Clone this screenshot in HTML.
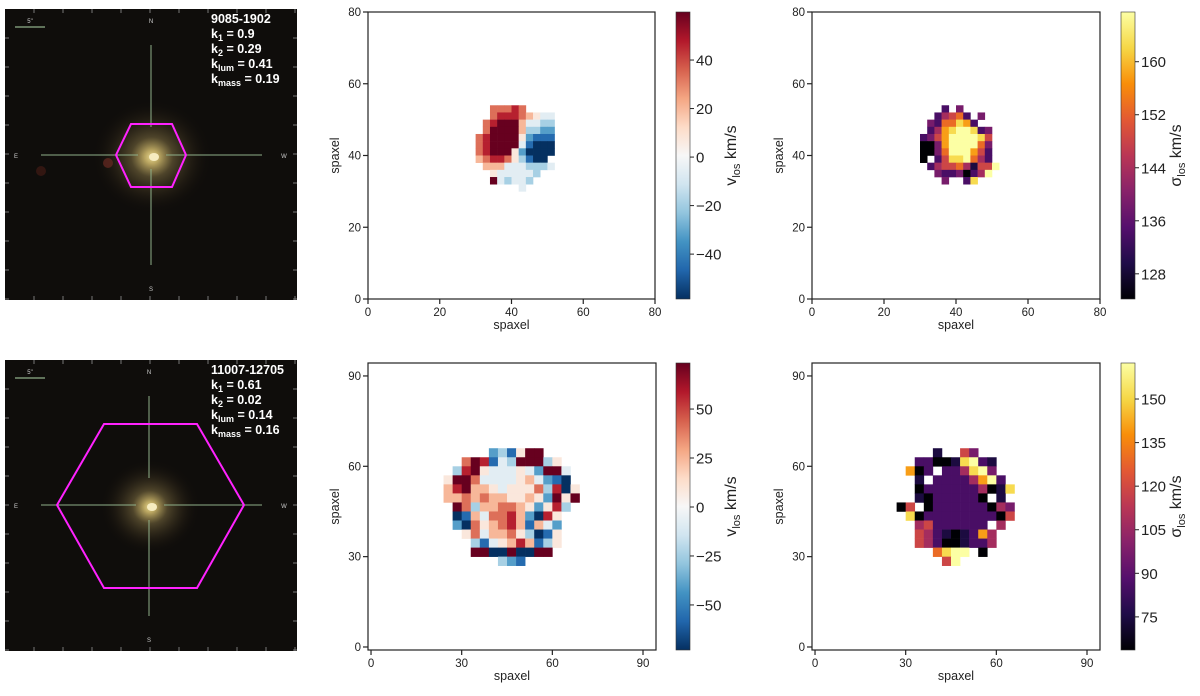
<!DOCTYPE html>
<html><head><meta charset="utf-8"><style>
body{margin:0;background:#fff;width:1200px;height:696px;overflow:hidden}
svg{display:block}
text{font-family:"Liberation Sans","DejaVu Sans",sans-serif}
</style></head><body>
<svg id="fig" width="1200" height="696" viewBox="0 0 1200 696">
<defs>
<linearGradient id="rdbu" x1="0" y1="1" x2="0" y2="0">
<stop offset="0" stop-color="#053061"/><stop offset="0.1" stop-color="#2166ac"/><stop offset="0.2" stop-color="#4393c3"/><stop offset="0.3" stop-color="#92c5de"/><stop offset="0.4" stop-color="#d1e5f0"/><stop offset="0.5" stop-color="#f7f7f7"/><stop offset="0.6" stop-color="#fddbc7"/><stop offset="0.7" stop-color="#f4a582"/><stop offset="0.8" stop-color="#d6604d"/><stop offset="0.9" stop-color="#b2182b"/><stop offset="1" stop-color="#67001f"/>
</linearGradient>
<linearGradient id="inferno" x1="0" y1="1" x2="0" y2="0">
<stop offset="0" stop-color="#000004"/><stop offset="0.125" stop-color="#1f0c48"/><stop offset="0.25" stop-color="#550f6d"/><stop offset="0.375" stop-color="#88226a"/><stop offset="0.5" stop-color="#ba3655"/><stop offset="0.625" stop-color="#e35933"/><stop offset="0.75" stop-color="#f98e09"/><stop offset="0.875" stop-color="#f6d746"/><stop offset="1" stop-color="#fcffa4"/>
</linearGradient>
<radialGradient id="glow1" cx="0.5" cy="0.5" r="0.5">
<stop offset="0" stop-color="#e8d890"/><stop offset="0.12" stop-color="#b8a460"/><stop offset="0.35" stop-color="#5e5232" stop-opacity="0.8"/><stop offset="0.7" stop-color="#2e2618" stop-opacity="0.45"/><stop offset="1" stop-color="#100c08" stop-opacity="0"/>
</radialGradient>
</defs>
</svg>
<script>
// ---- data ----
const topVelRows = [
"..77787.....",
"..788876544.",
".7899964433.",
".7999963322.",
"78999952111.",
"78999941000.",
"78999520000.",
"6788753100..",
".6664443334.",
"..5444443...",
"..943443....",
"......4....."];
const topSigRows = [
"...2.3......",
"..24562.3...",
".3266872....",
".247899823..",
"2357999985..",
"0037999963..",
"0036999752..",
"0.25889642..",
".2455641559.",
"..32230249..",
"...3..28....",
"............"];
const botVelRows = [
".....231599....",
"..79814399935..",
".3895444542994.",
"59974444564210.",
"689665455573805",
"667676655652959",
".9736677652583.",
".016477862085..",
".207567861642..",
"..57466753015..",
"...3145686135..",
"...990090099...",
"......321......"];
const botSigRows = [
".....1..53.....",
"...220018921...",
"..702.224893...",
"...1.22224792..",
"...02222224018.",
"...10222220.1..",
".05.0222222043.",
"..802222222205.",
"...45222222.4..",
"...542101274...",
"...542001224...",
".....6899.0....",
"......59......."];
const topTicks = [0,20,40,60,80];
const botTicks = [0,30,60,90];
const topVelCbTicks = [40,20,0,-20,-40];
const topSigCbTicks = [160,152,144,136,128];
const botVelCbTicks = [50,25,0,-25,-50];
const botSigCbTicks = [150,135,120,105,90,75];

const NS='http://www.w3.org/2000/svg';
const fig=document.getElementById('fig');
function el(tag,attrs,parent){const e=document.createElementNS(NS,tag);for(const k in attrs)e.setAttribute(k,attrs[k]);(parent||fig).appendChild(e);return e;}

const RDBU=['#053061','#2166ac','#4393c3','#92c5de','#d1e5f0','#f7f7f7','#fddbc7','#f4a582','#d6604d','#b2182b','#67001f'];
const INF=['#000004','#1f0c48','#550f6d','#88226a','#ba3655','#e35933','#f98e09','#f6d746','#fcffa4'];
function hex(h){return [parseInt(h.slice(1,3),16),parseInt(h.slice(3,5),16),parseInt(h.slice(5,7),16)];}
function cmap(stops,t){t=Math.max(0,Math.min(1,t));const n=stops.length-1;const i=Math.min(n-1,Math.floor(t*n));const f=t*n-i;const a=hex(stops[i]),b=hex(stops[i+1]);return 'rgb('+a.map((v,k)=>Math.round(v+(b[k]-v)*f)).join(',')+')';}

function panel(o){
  const g=el('g',{});
  
  
  const sx=v=>o.L+(v-o.xmin)/(o.xmax-o.xmin)*(o.R-o.L);
  const sy=v=>o.B-(v-o.xmin)/(o.xmax-o.xmin)*(o.B-o.T);
  const rows=o.rows;
  rows.forEach((row,ri)=>{
    const y0=o.y0-ri*o.cell;
    for(let ci=0;ci<row.length;ci++){
      const c=row[ci]; if(c==='.')continue;
      const v=o.vmin+(+c)/9*(o.vmax-o.vmin);
      const x0=o.x0+ci*o.cell;
      const r=el('rect',{x:sx(x0),y:sy(y0+o.cell),width:sx(x0+o.cell)-sx(x0)+0.3,height:sy(y0)-sy(y0+o.cell)+0.3,fill:cmap(o.stops,(v-o.vmin)/(o.vmax-o.vmin))},g);
      
      
    }
  });
  const fr=el('rect',{x:o.L,y:o.T,width:o.R-o.L,height:o.B-o.T,fill:'none',stroke:'#222','stroke-width':1.2},g);
  
  
  o.ticks.forEach(t=>{
    el('line',{x1:sx(t),x2:sx(t),y1:o.B,y2:o.B+5,stroke:'#222','stroke-width':1.2},g);
    const tx=el('text',{x:sx(t),y:o.B+17,'font-size':11.5,'text-anchor':'middle',fill:'#222'},g);tx.textContent=t;
    
    
    el('line',{x1:o.L-5,x2:o.L,y1:sy(t),y2:sy(t),stroke:'#222','stroke-width':1.2},g);
    const ty=el('text',{x:o.L-7,y:sy(t)+4,'font-size':11.5,'text-anchor':'end',fill:'#222'},g);ty.textContent=t;
    
    
  });
  const xl=el('text',{x:(o.L+o.R)/2,y:o.B+30,'font-size':12.5,'text-anchor':'middle',fill:'#222'},g);xl.textContent='spaxel';
  
  
  const yl=el('text',{x:0,y:0,'font-size':12.5,'text-anchor':'middle',fill:'#222',transform:`translate(${o.L-29},${(o.T+o.B)/2}) rotate(-90)`},g);yl.textContent='spaxel';
  
  
  const cb=el('rect',{x:o.cbx,y:o.T,width:14,height:o.B-o.T,fill:`url(#${o.grad})`,stroke:'#333','stroke-width':0.6},g);
  
  
  const cy=v=>o.B-(v-o.vmin)/(o.vmax-o.vmin)*(o.B-o.T);
  o.cbTicks.forEach(t=>{
    el('line',{x1:o.cbx+14,x2:o.cbx+18,y1:cy(t),y2:cy(t),stroke:'#222','stroke-width':1},g);
    const tt=el('text',{x:o.cbx+20,y:cy(t)+5.5,'font-size':15,fill:'#222'},g);tt.textContent=(t<0?'\u2212'+(-t):t);
    
    
  });
  const lab=el('text',{x:0,y:0,'font-size':16,'text-anchor':'middle',fill:'#222',transform:`translate(${o.cbx+60},${(o.T+o.B)/2}) rotate(-90)`},g);
  lab.innerHTML=o.label;
  
  
}
const vl='v<tspan font-size="11" dy="4">los</tspan><tspan dy="-4"> km/s</tspan>';
const sl='σ<tspan font-size="11" dy="4">los</tspan><tspan dy="-4"> km/s</tspan>';
panel({name:'top-velocity-map',L:368,R:655,T:12,B:299,xmin:0,xmax:80,ticks:topTicks,rows:topVelRows,x0:30,y0:52,cell:2,vmin:-58.5,vmax:59.8,stops:RDBU,grad:'rdbu',cbx:676,cbTicks:topVelCbTicks,label:vl});
panel({name:'top-dispersion-map',L:812,R:1100,T:12,B:299,xmin:0,xmax:80,ticks:topTicks,rows:topSigRows,x0:30,y0:52,cell:2,vmin:124.2,vmax:167.5,stops:INF,grad:'inferno',cbx:1121,cbTicks:topSigCbTicks,label:sl});
panel({name:'bottom-velocity-map',L:368,R:656,T:363,B:650,xmin:-1,xmax:94.3,ticks:botTicks,rows:botVelRows,x0:24,y0:63,cell:3,vmin:-73,vmax:73.5,stops:RDBU,grad:'rdbu',cbx:676,cbTicks:botVelCbTicks,label:vl});
panel({name:'bottom-dispersion-map',L:812,R:1100,T:363,B:650,xmin:-1,xmax:94.3,ticks:botTicks,rows:botSigRows,x0:24,y0:63,cell:3,vmin:63.6,vmax:162.4,stops:INF,grad:'inferno',cbx:1121,cbTicks:botSigCbTicks,label:sl});

function galaxy(o){
  const g=el('g',{});
  
  
  el('rect',{x:5,y:o.T,width:292,height:291,fill:'#0f0d0b'},g);
  el('ellipse',{cx:o.cx,cy:o.cy,rx:o.gr,ry:o.gr*0.95,fill:'url(#glow1)'},g);
  el('ellipse',{cx:o.cx+2,cy:o.cy,rx:5,ry:4,fill:'#f6ecc0'},g);
  const c='#8fb08a';
  el('line',{x1:o.cx-1,x2:o.cx-1,y1:o.T+36,y2:o.T+148-30,stroke:c,'stroke-width':1},g);
  el('line',{x1:o.cx-1,x2:o.cx-1,y1:o.T+148+12,y2:o.T+256,stroke:c,'stroke-width':1},g);
  el('line',{x1:41,x2:o.cx-14,y1:o.cy-2,y2:o.cy-2,stroke:c,'stroke-width':1},g);
  el('line',{x1:o.cx+14,x2:262,y1:o.cy-2,y2:o.cy-2,stroke:c,'stroke-width':1},g);
  el('line',{x1:15,x2:45,y1:o.T+18,y2:o.T+18,stroke:c,'stroke-width':1.2},g);
  for(let i=0;i<10;i++){const p=34+i*29;el('line',{x1:p,x2:p,y1:o.T,y2:o.T+4,stroke:'#777'},g);el('line',{x1:p,x2:p,y1:o.T+287,y2:o.T+291,stroke:'#777'},g);el('line',{x1:5,x2:9,y1:o.T+p-5,y2:o.T+p-5,stroke:'#777'},g);el('line',{x1:293,x2:297,y1:o.T+p-5,y2:o.T+p-5,stroke:'#777'},g);}
  [['N',o.cx-1,o.T+14],['S',o.cx-1,o.T+282],['E',16,o.cy+1],['W',284,o.cy+1],['5"',30,o.T+14]].forEach(a=>{const t=el('text',{x:a[1],y:a[2],'font-size':6,fill:'#ccc','text-anchor':'middle'},g);t.textContent=a[0];});
  const hx=el('polygon',{points:o.hex,fill:'none',stroke:'#ff22ff','stroke-width':2},g);
  
  
  const tg=el('text',{x:211,y:o.T+14,'font-size':12.5,'font-weight':'bold',fill:'#fff'},g);
  
  
  tg.innerHTML=`<tspan x="211">${o.id}</tspan>`+
   `<tspan x="211" dy="15">k<tspan font-size="9" dy="3">1</tspan><tspan dy="-3"> = ${o.k[0]}</tspan></tspan>`+
   `<tspan x="211" dy="15">k<tspan font-size="9" dy="3">2</tspan><tspan dy="-3"> = ${o.k[1]}</tspan></tspan>`+
   `<tspan x="211" dy="15">k<tspan font-size="9" dy="3">lum</tspan><tspan dy="-3"> = ${o.k[2]}</tspan></tspan>`+
   `<tspan x="211" dy="15">k<tspan font-size="9" dy="3">mass</tspan><tspan dy="-3"> = ${o.k[3]}</tspan></tspan>`;
}
galaxy({name:'top-galaxy-image',T:9,cx:152,cy:157,gr:60,id:'9085-1902',k:['0.9','0.29','0.41','0.19'],hex:'116,155 131,124 172,124 186,155 172,187 131,187'});
el('circle',{cx:108,cy:163,r:5,fill:'#6a2a22',opacity:0.7});
el('circle',{cx:41,cy:171,r:5,fill:'#4a1c16',opacity:0.6});
galaxy({name:'bottom-galaxy-image',T:360,cx:150,cy:507,gr:50,id:'11007-12705',k:['0.61','0.02','0.14','0.16'],hex:'57,505 104,424 197,424 244,505 197,588 104,588'});
</script>
</body></html>
